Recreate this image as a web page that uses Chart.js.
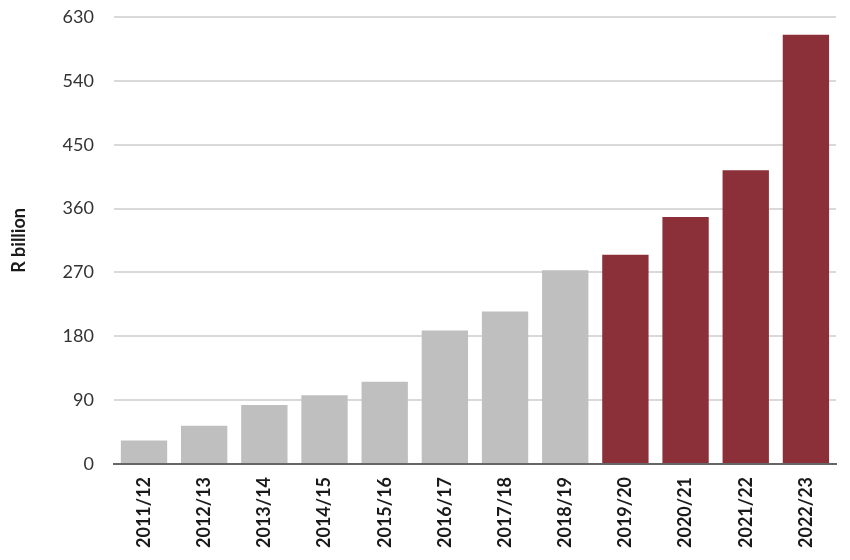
<!DOCTYPE html>
<html>
<head>
<meta charset="utf-8">
<script src="https://cdn.jsdelivr.net/npm/chart.js@4.4.0/dist/chart.umd.min.js"></script>
<style>
    body { margin: 0; background: #fff; }
</style>
</head>
<body>
<canvas id="myChart" width="850" height="560"></canvas>

<script>
    // financial years and values in R billion
    const years = ['2011/12', '2012/13', '2013/14', '2014/15', '2015/16', '2016/17',
                   '2017/18', '2018/19', '2019/20', '2020/21', '2021/22', '2022/23'];
    const values = [33, 54, 83, 97, 116, 188, 215, 273, 295, 348, 414, 605];
    const firstProjected = '2019/20';
    const yTicks = [0, 90, 180, 270, 360, 450, 540, 630];

    const splitAt = years.indexOf(firstProjected);
    const colors = years.map((y, i) => i < splitAt ? '#bfbfbf' : '#8b2f38');

    const ctx = document.getElementById('myChart').getContext('2d');
    const chart = new Chart(ctx, {
        type: 'bar',
        data: {
            labels: years,
            datasets: [{
                label: 'R billion',
                data: values,
                backgroundColor: colors,
                borderWidth: 0,
                categoryPercentage: 1,
                barPercentage: 0.77
            }]
        },
        options: {
            responsive: false,
            animation: false,
            layout: { padding: { top: 0, right: 14, bottom: 7, left: 8 } },
            plugins: {
                legend: { display: false },
                tooltip: { enabled: false }
            },
            scales: {
                x: {
                    grid: { display: false },
                    border: { display: true, color: '#666', width: 2 },
                    ticks: {
                        maxRotation: 90,
                        minRotation: 90,
                        color: '#1a1a1a',
                        padding: 5,
                        font: { family: 'Lato', size: 18, weight: 'bold' }
                    }
                },
                y: {
                    min: 0,
                    max: 630,
                    afterBuildTicks: scale => { scale.ticks = yTicks.map(v => ({ value: v })); },
                    afterFit: scale => { scale.paddingTop = 17; },
                    grid: { color: '#d9d9d9', lineWidth: 2, drawTicks: false },
                    border: { display: false },
                    ticks: {
                        color: '#333',
                        padding: 20,
                        font: { family: 'Lato', size: 18 }
                    },
                    title: {
                        display: true,
                        text: 'R billion',
                        color: '#1a1a1a',
                        padding: { top: 0, bottom: 13 },
                        font: { family: 'Lato', size: 18, weight: 'bold' }
                    }
                }
            }
        }
    });
</script>
</body>
</html>
